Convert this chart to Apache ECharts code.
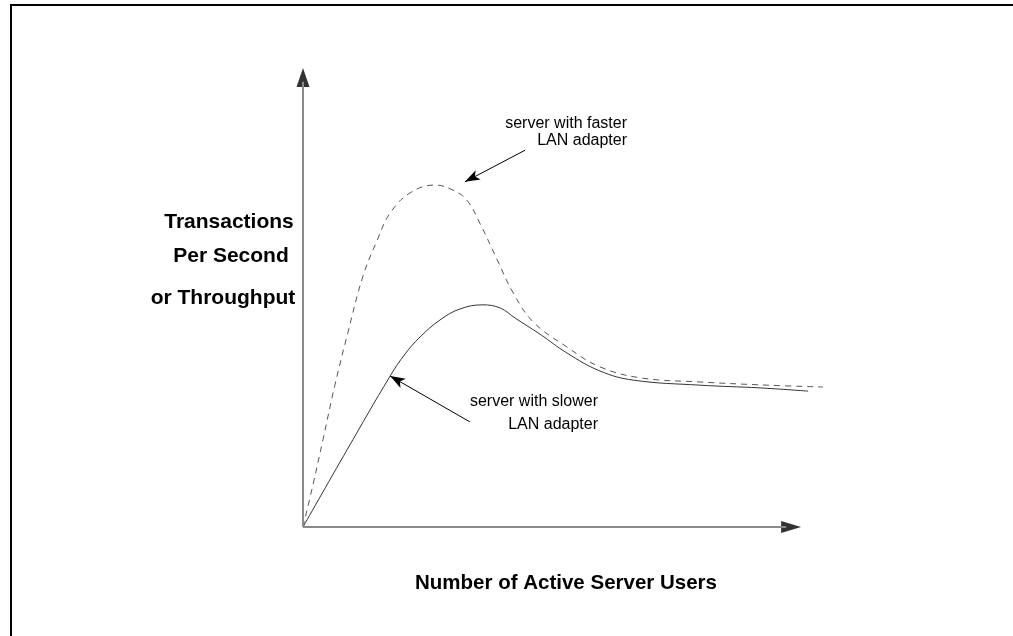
<!DOCTYPE html>
<html>
<head>
<meta charset="utf-8">
<script src="https://cdn.jsdelivr.net/npm/echarts@6/dist/echarts.min.js"></script>
<style>
  html, body { margin: 0; padding: 0; background: #fff; }
  #chart { width: 1013px; height: 636px; }
</style>
</head>
<body>
<div id="chart"></div>
<script>
  // slower LAN adapter (solid)
  const slowerUsers = [0, 8.84, 17.5, 20.5, 23.5, 27.5, 31.5, 36.1, 39.6, 42.6, 47.6, 53.0, 59.6, 66.3, 79.7, 91.8, 101.4];
  const slowerTps = [0, 16.8, 32.9, 37.7, 41.4, 45.1, 47.5, 48.4, 47.7, 45.5, 42.0, 37.9, 34.0, 32.0, 30.9, 30.3, 29.6];
  // faster LAN adapter (dashed)
  const fasterUsers = [0, 2.0, 4.0, 6.4, 9.0, 12.0, 14.9, 17.5, 21.5, 26.5, 30.1, 32.9, 35.5, 39.0, 42.2, 46.2, 53.0, 59.6, 67.7, 79.7, 93.2, 104.4];
  const fasterTps = [0, 9.2, 19.0, 30.9, 42.3, 54.5, 62.5, 68.4, 72.8, 74.5, 73.4, 71.2, 66.2, 58.2, 51.0, 44.7, 39.2, 34.9, 32.5, 31.6, 30.9, 30.5];
  // annotation arrows [tail, tip]
  const fasterArrow = [[44.6, 82.1], [32.5, 75.2]];
  const slowerArrow = [[33.5, 22.9], [17.5, 32.9]];
  // axis extents (arrow tips)
  const xTip = 100;
  const yTip = 100;

  const zip = (xs, ys) => xs.map((x, i) => [x, ys[i]]);
  const FONT = '"Liberation Sans", Arial, sans-serif';

  const chart = echarts.init(document.getElementById('chart'));

  const arrowLine = (arr) => [
    { coord: arr[0], symbol: 'none' },
    { coord: arr[1], symbol: 'arrow' }
  ];

  const hiddenAxis = (max) => ({
    type: 'value', min: 0, max: max,
    axisLine: { show: false }, axisTick: { show: false },
    axisLabel: { show: false }, splitLine: { show: false }
  });

  const option = {
    animation: false,
    grid: { left: 303, right: 182, top: 68, bottom: 109 },
    xAxis: hiddenAxis(106),
    yAxis: hiddenAxis(100),
    series: [
      {
        // axis lines and arrowheads
        type: 'scatter',
        clip: false,
        silent: true,
        z: 1,
        itemStyle: { color: '#000' },
        data: [
          { value: [xTip, 0], symbol: 'path://M0,0 L20,6 L0,12 Z', symbolSize: [20, 12], symbolOffset: [-10, 0] },
          { value: [0, yTip], symbol: 'path://M0,19 L6.5,0 L13,19 Z', symbolSize: [13, 19], symbolOffset: [0, 9.5] }
        ],
        markLine: {
          silent: true,
          symbol: 'none',
          label: { show: false },
          lineStyle: { color: '#8a8a8a', width: 2, type: 'solid' },
          data: [
            [{ coord: [0, 0] }, { coord: [xTip - 3, 0] }],
            [{ coord: [0, 0] }, { coord: [0, yTip - 3] }]
          ]
        }
      },
      {
        name: 'server with slower LAN adapter',
        type: 'line',
        data: zip(slowerUsers, slowerTps),
        smooth: 0.4,
        symbol: 'none',
        clip: false,
        z: 3,
        lineStyle: { color: '#333', width: 1 },
        markLine: {
          silent: true,
          symbolSize: [8, 15],
          label: { show: false },
          lineStyle: { color: '#000', width: 1, type: 'solid' },
          data: [arrowLine(fasterArrow), arrowLine(slowerArrow)]
        }
      },
      {
        name: 'server with faster LAN adapter',
        type: 'line',
        data: zip(fasterUsers, fasterTps),
        smooth: 0.4,
        symbol: 'none',
        clip: false,
        z: 3,
        lineStyle: { color: '#555', width: 1, type: [6, 5] }
      }
    ],
    graphic: [
      { type: 'rect', shape: { x: 11, y: 5, width: 1100, height: 700 }, style: { fill: 'none', stroke: '#000', lineWidth: 2 } },
      { type: 'text', x: 229, y: 222, style: { text: 'Transactions', font: 'bold 21px ' + FONT, fill: '#000', textAlign: 'center', textVerticalAlign: 'middle' } },
      { type: 'text', x: 231, y: 256, style: { text: 'Per Second', font: 'bold 21px ' + FONT, fill: '#000', textAlign: 'center', textVerticalAlign: 'middle' } },
      { type: 'text', x: 223, y: 298, style: { text: 'or Throughput', font: 'bold 21px ' + FONT, fill: '#000', textAlign: 'center', textVerticalAlign: 'middle' } },
      { type: 'text', x: 566, y: 583, style: { text: 'Number of Active Server Users', font: 'bold 20.5px ' + FONT, fill: '#000', textAlign: 'center', textVerticalAlign: 'middle' } },
      { type: 'text', x: 627, y: 124, style: { text: 'server with faster', font: '16px ' + FONT, fill: '#000', textAlign: 'right', textVerticalAlign: 'middle' } },
      { type: 'text', x: 627, y: 141, style: { text: 'LAN adapter', font: '16px ' + FONT, fill: '#000', textAlign: 'right', textVerticalAlign: 'middle' } },
      { type: 'text', x: 598, y: 402, style: { text: 'server with slower', font: '16px ' + FONT, fill: '#000', textAlign: 'right', textVerticalAlign: 'middle' } },
      { type: 'text', x: 598, y: 425, style: { text: 'LAN adapter', font: '16px ' + FONT, fill: '#000', textAlign: 'right', textVerticalAlign: 'middle' } }
    ]
  };

  chart.setOption(option);
</script>
</body>
</html>
